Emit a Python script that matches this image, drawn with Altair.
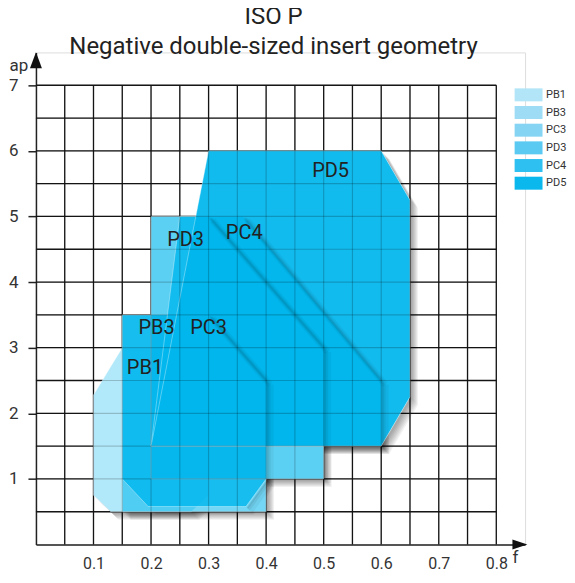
import altair as alt
import pandas as pd
import numpy as np

# ---------------- data ----------------
series = ["PB1", "PB3", "PC3", "PD3", "PC4", "PD5"]
legend_colors = ["#b3e5f8", "#9edcf6", "#86d4f4", "#5bcaf3", "#2ec0f0", "#0ab8ed"]
fill_alpha = [0.30, 0.55, 0.80, 0.64, 0.80, 0.93]
base_color = "#00b6ed"
edge_shadow_series = ["PC3", "PD3", "PC4"]

# polygon vertices (f = feed, ap = depth of cut)
pb1_f = [0.10, 0.13, 0.27, 0.30, 0.30, 0.225, 0.15, 0.10]
pb1_ap = [0.75, 0.50, 0.50, 0.75, 2.25, 3.00, 3.00, 2.28]
pb3_f = [0.15, 0.40, 0.40, 0.25, 0.15]
pb3_ap = [0.50, 0.50, 2.00, 3.50, 3.50]
pc3_f = [0.15, 0.195, 0.365, 0.40, 0.40, 0.30, 0.15]
pc3_ap = [1.00, 0.58, 0.58, 1.00, 2.50, 3.50, 3.50]
pd3_f = [0.20, 0.50, 0.50, 0.30, 0.20]
pd3_ap = [1.00, 1.00, 3.00, 5.00, 5.00]
pc4_f = [0.20, 0.60, 0.60, 0.36, 0.25]
pc4_ap = [1.50, 1.50, 2.50, 5.00, 5.00]
pd5_f = [0.20, 0.60, 0.65, 0.65, 0.60, 0.30]
pd5_ap = [1.50, 1.50, 2.25, 5.25, 6.00, 6.00]

polys = {
    "PB1": (pb1_f, pb1_ap), "PB3": (pb3_f, pb3_ap), "PC3": (pc3_f, pc3_ap),
    "PD3": (pd3_f, pd3_ap), "PC4": (pc4_f, pc4_ap), "PD5": (pd5_f, pd5_ap),
}

# in-chart labels
label_text = ["PB1", "PB3", "PC3", "PD3", "PC4", "PD5"]
label_f = [0.158, 0.178, 0.268, 0.228, 0.330, 0.480]
label_ap = [2.69, 3.30, 3.30, 4.64, 4.75, 5.69]

x_ticks = [0.1, 0.2, 0.3, 0.4, 0.5, 0.6, 0.7, 0.8]
y_ticks = [1, 2, 3, 4, 5, 6, 7]
x_grid = [0.05, 0.10, 0.15, 0.20, 0.25, 0.30, 0.35, 0.40,
          0.45, 0.50, 0.55, 0.60, 0.65, 0.70, 0.75, 0.80]
y_grid = [0.5, 1.0, 1.5, 2.0, 2.5, 3.0, 3.5, 4.0,
          4.5, 5.0, 5.5, 6.0, 6.5, 7.0]

f_domain = [0, 0.85]
ap_domain = [0, 7.5]
PLOT_W, PLOT_H = 490, 493


# ---------------- helpers ----------------
def band_rows(name, fx, fy):
    """vertical lower/upper limits of a convex polygon at each vertex f"""
    rows = []
    n = len(fx)
    for x in sorted(set(fx)):
        ys = []
        for i in range(n):
            x1, y1, x2, y2 = fx[i], fy[i], fx[(i + 1) % n], fy[(i + 1) % n]
            if x1 == x2:
                if abs(x1 - x) < 1e-12:
                    ys += [y1, y2]
            elif min(x1, x2) - 1e-12 <= x <= max(x1, x2) + 1e-12:
                t = (x - x1) / (x2 - x1)
                ys.append(y1 + t * (y2 - y1))
        rows.append({"series": name, "f": x, "lo": min(ys), "hi": max(ys)})
    return rows


def right_edges(name, fx, fy):
    """edges of the polygon that face to the right (they cast a shadow)"""
    kx = PLOT_W / (f_domain[1] - f_domain[0])
    ky = PLOT_H / (ap_domain[1] - ap_domain[0])
    n = len(fx)
    area = sum(fx[i] * fy[(i + 1) % n] - fx[(i + 1) % n] * fy[i] for i in range(n))
    sgn = 1 if area > 0 else -1
    rows = []
    for i in range(n):
        x1, y1, x2, y2 = fx[i], fy[i], fx[(i + 1) % n], fy[(i + 1) % n]
        dx, dy = (x2 - x1) * kx, (y2 - y1) * ky
        nx, ny = sgn * dy, -sgn * dx          # outward normal (y up)
        ln = (nx * nx + ny * ny) ** 0.5
        if ln > 0 and nx / ln > 0.3:
            eid = f"{name}-{i}"
            rows.append({"edge": eid, "o": 0, "f": x1, "ap": y1})
            rows.append({"edge": eid, "o": 1, "f": x2, "ap": y2})
    return rows


rows = []
for s in series:
    rows += band_rows(s, *polys[s])
bands = pd.DataFrame(rows)

erows = []
for s in edge_shadow_series:
    erows += right_edges(s, *polys[s])
edges = pd.DataFrame(erows)

cent = pd.DataFrame({
    "series": series,
    "f": [float(np.mean(polys[s][0])) for s in series],
    "ap": [float(np.mean(polys[s][1])) for s in series],
})

vgrid = pd.DataFrame({"f": x_grid, "a0": 0.0, "a1": max(y_grid)})
hgrid = pd.DataFrame({"ap": y_grid, "f0": 0.0, "f1": max(x_grid)})
labels = pd.DataFrame({"t": label_text, "f": label_f, "ap": label_ap})

FONT = "Roboto"
xscale = alt.Scale(domain=f_domain, nice=False, zero=False)
yscale = alt.Scale(domain=ap_domain, nice=False, zero=False)

xaxis = alt.Axis(values=x_ticks, format=".1f", grid=False, ticks=False,
                 labelFont=FONT, labelFontSize=16, labelColor="#333",
                 labelPadding=11, domainColor="#222", domainWidth=1.5,
                 title="f", titleFont=FONT, titleFontSize=17,
                 titleFontWeight="normal", titleColor="#333",
                 titleX=477, titleY=18, titleAlign="left",
                 titleBaseline="alphabetic", titleAngle=0)
yaxis = alt.Axis(values=y_ticks, format="d", grid=False, ticks=True,
                 tickSize=8, tickColor="#222", tickWidth=1.5,
                 labelFont=FONT, labelFontSize=17, labelColor="#333",
                 labelPadding=10, domainColor="#222", domainWidth=1.5,
                 title="ap", titleFont=FONT, titleFontSize=17,
                 titleFontWeight="normal", titleColor="#333",
                 titleX=-27, titleY=18, titleAlign="left",
                 titleBaseline="alphabetic", titleAngle=0)


def X(fld):
    return alt.X(fld, type="quantitative", scale=xscale, axis=xaxis)


def Y(fld):
    return alt.Y(fld, type="quantitative", scale=yscale, axis=yaxis,
                 stack=None)


# grid (black, under the shapes)
vrules = alt.Chart(vgrid).mark_rule(color="#1a1a1a", strokeWidth=1.3).encode(
    x=X("f"), y=Y("a0"), y2="a1")
hrules = alt.Chart(hgrid).mark_rule(color="#1a1a1a", strokeWidth=1.3).encode(
    y=Y("ap"), x=X("f0"), x2="f1")

# legend anchor layer (hidden below the white fills)
legend_layer = alt.Chart(cent).mark_square(size=40, opacity=1).encode(
    x=X("f"), y=Y("ap"),
    color=alt.Color("series:N",
                    scale=alt.Scale(domain=series, range=legend_colors),
                    sort=series,
                    legend=alt.Legend(title=None, orient="none",
                                      legendX=487, legendY=36,
                                      symbolType="M-2.15,-1H2.15V1H-2.15Z",
                                      symbolSize=169, symbolStrokeWidth=0,
                                      symbolOpacity=1,
                                      labelFont=FONT, labelFontSize=11,
                                      labelColor="#333", labelOffset=11,
                                      rowPadding=4.7, padding=0)))

# soft outer shadows
shadow_layers = []
for k in [2, 3, 4, 5, 6, 7, 8]:
    shadow_layers.append(
        alt.Chart(bands).mark_area(color="black", opacity=0.055,
                                   xOffset=k, yOffset=k, y2Offset=k).encode(
            x=X("f"), y=Y("lo"), y2="hi", detail="series:N"))

white = alt.Chart(bands).mark_area(color="white", opacity=1).encode(
    x=X("f"), y=Y("lo"), y2="hi", detail="series:N")

shape_layers = []
for s, a in zip(series, fill_alpha):
    shape_layers.append(
        alt.Chart(bands[bands["series"] == s]).mark_area(
            fill=base_color, fillOpacity=a, stroke="white", strokeWidth=1,
            strokeOpacity=0.35
        ).encode(x=X("f"), y=Y("lo"), y2="hi"))

# inner shadows cast by the right-facing edges
edge_layers = []
for off, w, op in [(4, 7, 0.045), (2.5, 4, 0.06), (1.5, 2, 0.08)]:
    edge_layers.append(
        alt.Chart(edges).mark_line(color="black", strokeWidth=w, opacity=op,
                                   strokeCap="butt", xOffset=off,
                                   yOffset=off).encode(
            x=X("f"), y=Y("ap"), detail="edge:N", order="o:Q"))

# faint grid over the shapes
vrules2 = alt.Chart(vgrid).mark_rule(color="#000", strokeWidth=1.2,
                                     strokeOpacity=0.2).encode(
    x=X("f"), y=Y("a0"), y2="a1")
hrules2 = alt.Chart(hgrid).mark_rule(color="#000", strokeWidth=1.2,
                                     strokeOpacity=0.2).encode(
    y=Y("ap"), x=X("f0"), x2="f1")

texts = alt.Chart(labels).mark_text(font=FONT, fontSize=20, color="#222",
                                    align="left", baseline="middle").encode(
    x=X("f"), y=Y("ap"), text="t:N")

# axis arrows
arrow_x = alt.Chart(pd.DataFrame({"f": [f_domain[1] - 0.009], "ap": [0.0]})).mark_point(
    shape="M-1,-0.667L1,0L-1,0.667Z", size=225, filled=True, color="#111",
    opacity=1).encode(x=X("f"), y=Y("ap"))
arrow_y = alt.Chart(pd.DataFrame({"f": [0.0], "ap": [ap_domain[1] - 0.12]})).mark_point(
    shape="M-0.75,1L0,-1L0.75,1Z", size=256, filled=True, color="#111",
    opacity=1).encode(x=X("f"), y=Y("ap"))

chart = alt.layer(
    vrules, hrules, legend_layer, *shadow_layers, white, *shape_layers,
    *edge_layers, vrules2, hrules2, texts, arrow_x, arrow_y
).properties(
    width=PLOT_W, height=PLOT_H,
    title=alt.TitleParams(["ISO P", "Negative double-sized insert geometry"],
                          font=FONT, fontSize=24, fontWeight="normal",
                          color="#222", lineHeight=30, offset=-7, dx=-7,
                          anchor="middle"),
    padding={"left": 0, "right": 0, "top": -4, "bottom": -3},
).configure_view(stroke=None).configure(background="white")

chart.save("out.html", embed_options={"renderer": "svg", "actions": False})
